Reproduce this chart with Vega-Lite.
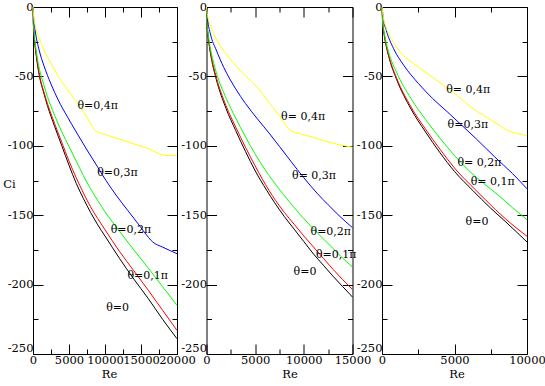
{
  "$schema": "https://vega.github.io/schema/vega-lite/v6.json",
  "padding": {"left": 2, "top": 0, "right": 0, "bottom": 0},
  "spacing": 29.5,
  "bounds": "flush",
  "config": {
    "view": {"stroke": "black", "strokeWidth": 1},
    "axis": {
      "domain": false, "grid": false, "tickColor": "black", "tickWidth": 1,
      "labelFont": "DejaVu Serif", "labelFontSize": 11.5, "labelColor": "black",
      "titleFont": "DejaVu Serif", "titleFontSize": 11.5, "titleFontWeight": "normal", "titleColor": "black",
      "labelFlush": false, "labelOverlap": false
    }
  },
  "datasets": {
    "curves": [
      {"panel":1,"theta":"0","Re":0,"Ci":0},{"panel":1,"theta":"0","Re":50,"Ci":-12},{"panel":1,"theta":"0","Re":150,"Ci":-20},{"panel":1,"theta":"0","Re":300,"Ci":-28.5},{"panel":1,"theta":"0","Re":500,"Ci":-37},{"panel":1,"theta":"0","Re":900,"Ci":-50},{"panel":1,"theta":"0","Re":1500,"Ci":-62},{"panel":1,"theta":"0","Re":2000,"Ci":-71},{"panel":1,"theta":"0","Re":3000,"Ci":-86},{"panel":1,"theta":"0","Re":4000,"Ci":-100},{"panel":1,"theta":"0","Re":5000,"Ci":-114},{"panel":1,"theta":"0","Re":6000,"Ci":-127},{"panel":1,"theta":"0","Re":7000,"Ci":-138},{"panel":1,"theta":"0","Re":8000,"Ci":-148},{"panel":1,"theta":"0","Re":9000,"Ci":-157},{"panel":1,"theta":"0","Re":10000,"Ci":-165},{"panel":1,"theta":"0","Re":12000,"Ci":-181},{"panel":1,"theta":"0","Re":14000,"Ci":-196},{"panel":1,"theta":"0","Re":16000,"Ci":-210},{"panel":1,"theta":"0","Re":18000,"Ci":-225},{"panel":1,"theta":"0","Re":20000,"Ci":-239},
      {"panel":1,"theta":"0.1","Re":0,"Ci":0},{"panel":1,"theta":"0.1","Re":50,"Ci":-11.5},{"panel":1,"theta":"0.1","Re":150,"Ci":-19.5},{"panel":1,"theta":"0.1","Re":300,"Ci":-28},{"panel":1,"theta":"0.1","Re":500,"Ci":-36},{"panel":1,"theta":"0.1","Re":900,"Ci":-49},{"panel":1,"theta":"0.1","Re":1500,"Ci":-61},{"panel":1,"theta":"0.1","Re":2000,"Ci":-69.5},{"panel":1,"theta":"0.1","Re":3000,"Ci":-84},{"panel":1,"theta":"0.1","Re":4000,"Ci":-97.5},{"panel":1,"theta":"0.1","Re":5000,"Ci":-111},{"panel":1,"theta":"0.1","Re":6000,"Ci":-123},{"panel":1,"theta":"0.1","Re":7000,"Ci":-134},{"panel":1,"theta":"0.1","Re":8000,"Ci":-144},{"panel":1,"theta":"0.1","Re":9000,"Ci":-152.5},{"panel":1,"theta":"0.1","Re":10000,"Ci":-160.5},{"panel":1,"theta":"0.1","Re":12000,"Ci":-176},{"panel":1,"theta":"0.1","Re":14000,"Ci":-190},{"panel":1,"theta":"0.1","Re":16000,"Ci":-204},{"panel":1,"theta":"0.1","Re":18000,"Ci":-218.5},{"panel":1,"theta":"0.1","Re":20000,"Ci":-233},
      {"panel":1,"theta":"0.2","Re":0,"Ci":0},{"panel":1,"theta":"0.2","Re":50,"Ci":-10.8},{"panel":1,"theta":"0.2","Re":150,"Ci":-18},{"panel":1,"theta":"0.2","Re":300,"Ci":-25.7},{"panel":1,"theta":"0.2","Re":500,"Ci":-33.3},{"panel":1,"theta":"0.2","Re":900,"Ci":-45},{"panel":1,"theta":"0.2","Re":1500,"Ci":-56},{"panel":1,"theta":"0.2","Re":2000,"Ci":-64.5},{"panel":1,"theta":"0.2","Re":3000,"Ci":-78},{"panel":1,"theta":"0.2","Re":4000,"Ci":-90},{"panel":1,"theta":"0.2","Re":5000,"Ci":-100.5},{"panel":1,"theta":"0.2","Re":6000,"Ci":-111},{"panel":1,"theta":"0.2","Re":7000,"Ci":-121.5},{"panel":1,"theta":"0.2","Re":8000,"Ci":-131},{"panel":1,"theta":"0.2","Re":9000,"Ci":-139.5},{"panel":1,"theta":"0.2","Re":10000,"Ci":-147.5},{"panel":1,"theta":"0.2","Re":12000,"Ci":-161.5},{"panel":1,"theta":"0.2","Re":14000,"Ci":-175},{"panel":1,"theta":"0.2","Re":16000,"Ci":-188},{"panel":1,"theta":"0.2","Re":18000,"Ci":-201.5},{"panel":1,"theta":"0.2","Re":20000,"Ci":-215},
      {"panel":1,"theta":"0.3","Re":0,"Ci":0},{"panel":1,"theta":"0.3","Re":100,"Ci":-9},{"panel":1,"theta":"0.3","Re":300,"Ci":-17},{"panel":1,"theta":"0.3","Re":880,"Ci":-31.6},{"panel":1,"theta":"0.3","Re":1500,"Ci":-42},{"panel":1,"theta":"0.3","Re":2500,"Ci":-55.5},{"panel":1,"theta":"0.3","Re":3500,"Ci":-67},{"panel":1,"theta":"0.3","Re":4820,"Ci":-79.5},{"panel":1,"theta":"0.3","Re":6000,"Ci":-90},{"panel":1,"theta":"0.3","Re":7500,"Ci":-103},{"panel":1,"theta":"0.3","Re":9000,"Ci":-115.5},{"panel":1,"theta":"0.3","Re":10140,"Ci":-125},{"panel":1,"theta":"0.3","Re":11530,"Ci":-135.5},{"panel":1,"theta":"0.3","Re":13150,"Ci":-146.5},{"panel":1,"theta":"0.3","Re":14500,"Ci":-155.5},{"panel":1,"theta":"0.3","Re":15500,"Ci":-162.5},{"panel":1,"theta":"0.3","Re":16630,"Ci":-169.3},{"panel":1,"theta":"0.3","Re":18000,"Ci":-173},{"panel":1,"theta":"0.3","Re":20000,"Ci":-177.7},
      {"panel":1,"theta":"0.4","Re":0,"Ci":0},{"panel":1,"theta":"0.4","Re":100,"Ci":-7},{"panel":1,"theta":"0.4","Re":300,"Ci":-13},{"panel":1,"theta":"0.4","Re":650,"Ci":-19.6},{"panel":1,"theta":"0.4","Re":1000,"Ci":-24.5},{"panel":1,"theta":"0.4","Re":1570,"Ci":-31.6},{"panel":1,"theta":"0.4","Re":2500,"Ci":-40.5},{"panel":1,"theta":"0.4","Re":3500,"Ci":-50},{"panel":1,"theta":"0.4","Re":4500,"Ci":-57.5},{"panel":1,"theta":"0.4","Re":5500,"Ci":-64.5},{"panel":1,"theta":"0.4","Re":6500,"Ci":-71.5},{"panel":1,"theta":"0.4","Re":7500,"Ci":-79.5},{"panel":1,"theta":"0.4","Re":8660,"Ci":-89},{"panel":1,"theta":"0.4","Re":10000,"Ci":-91.8},{"panel":1,"theta":"0.4","Re":12000,"Ci":-95.2},{"panel":1,"theta":"0.4","Re":14000,"Ci":-98.6},{"panel":1,"theta":"0.4","Re":16000,"Ci":-102},{"panel":1,"theta":"0.4","Re":18470,"Ci":-107},{"panel":1,"theta":"0.4","Re":20000,"Ci":-107},

      {"panel":2,"theta":"0","Re":0,"Ci":0},{"panel":2,"theta":"0","Re":50,"Ci":-12},{"panel":2,"theta":"0","Re":150,"Ci":-20},{"panel":2,"theta":"0","Re":300,"Ci":-28.5},{"panel":2,"theta":"0","Re":500,"Ci":-37},{"panel":2,"theta":"0","Re":1000,"Ci":-52},{"panel":2,"theta":"0","Re":2000,"Ci":-73},{"panel":2,"theta":"0","Re":3000,"Ci":-89},{"panel":2,"theta":"0","Re":4000,"Ci":-104},{"panel":2,"theta":"0","Re":5000,"Ci":-118},{"panel":2,"theta":"0","Re":6180,"Ci":-132},{"panel":2,"theta":"0","Re":7000,"Ci":-141},{"panel":2,"theta":"0","Re":8000,"Ci":-151},{"panel":2,"theta":"0","Re":9000,"Ci":-160},{"panel":2,"theta":"0","Re":10000,"Ci":-169},{"panel":2,"theta":"0","Re":11000,"Ci":-178},{"panel":2,"theta":"0","Re":12000,"Ci":-186},{"panel":2,"theta":"0","Re":13000,"Ci":-194},{"panel":2,"theta":"0","Re":14000,"Ci":-201.5},{"panel":2,"theta":"0","Re":15000,"Ci":-209},
      {"panel":2,"theta":"0.1","Re":0,"Ci":0},{"panel":2,"theta":"0.1","Re":50,"Ci":-11.7},{"panel":2,"theta":"0.1","Re":150,"Ci":-19.5},{"panel":2,"theta":"0.1","Re":300,"Ci":-27.8},{"panel":2,"theta":"0.1","Re":500,"Ci":-36},{"panel":2,"theta":"0.1","Re":1000,"Ci":-50.5},{"panel":2,"theta":"0.1","Re":2000,"Ci":-71},{"panel":2,"theta":"0.1","Re":3000,"Ci":-86.5},{"panel":2,"theta":"0.1","Re":4000,"Ci":-101},{"panel":2,"theta":"0.1","Re":5000,"Ci":-114.5},{"panel":2,"theta":"0.1","Re":6410,"Ci":-132},{"panel":2,"theta":"0.1","Re":7100,"Ci":-139.4},{"panel":2,"theta":"0.1","Re":8000,"Ci":-148},{"panel":2,"theta":"0.1","Re":9000,"Ci":-156.5},{"panel":2,"theta":"0.1","Re":10000,"Ci":-165},{"panel":2,"theta":"0.1","Re":11000,"Ci":-173},{"panel":2,"theta":"0.1","Re":12000,"Ci":-181},{"panel":2,"theta":"0.1","Re":13000,"Ci":-189},{"panel":2,"theta":"0.1","Re":14000,"Ci":-196.5},{"panel":2,"theta":"0.1","Re":15000,"Ci":-203.5},
      {"panel":2,"theta":"0.2","Re":0,"Ci":0},{"panel":2,"theta":"0.2","Re":50,"Ci":-10.8},{"panel":2,"theta":"0.2","Re":150,"Ci":-18},{"panel":2,"theta":"0.2","Re":300,"Ci":-25.7},{"panel":2,"theta":"0.2","Re":500,"Ci":-33.3},{"panel":2,"theta":"0.2","Re":1000,"Ci":-47},{"panel":2,"theta":"0.2","Re":2000,"Ci":-65.5},{"panel":2,"theta":"0.2","Re":3000,"Ci":-80},{"panel":2,"theta":"0.2","Re":4000,"Ci":-93.5},{"panel":2,"theta":"0.2","Re":5000,"Ci":-106},{"panel":2,"theta":"0.2","Re":6000,"Ci":-117},{"panel":2,"theta":"0.2","Re":7440,"Ci":-131},{"panel":2,"theta":"0.2","Re":8300,"Ci":-138.5},{"panel":2,"theta":"0.2","Re":9000,"Ci":-144.5},{"panel":2,"theta":"0.2","Re":10000,"Ci":-152.5},{"panel":2,"theta":"0.2","Re":11000,"Ci":-160},{"panel":2,"theta":"0.2","Re":12080,"Ci":-167.5},{"panel":2,"theta":"0.2","Re":13000,"Ci":-174},{"panel":2,"theta":"0.2","Re":14000,"Ci":-181},{"panel":2,"theta":"0.2","Re":15000,"Ci":-187.3},
      {"panel":2,"theta":"0.3","Re":0,"Ci":0},{"panel":2,"theta":"0.3","Re":100,"Ci":-8},{"panel":2,"theta":"0.3","Re":410,"Ci":-19.6},{"panel":2,"theta":"0.3","Re":1000,"Ci":-31},{"panel":2,"theta":"0.3","Re":1780,"Ci":-43.6},{"panel":2,"theta":"0.3","Re":3000,"Ci":-59},{"panel":2,"theta":"0.3","Re":4000,"Ci":-69.5},{"panel":2,"theta":"0.3","Re":5220,"Ci":-80.5},{"panel":2,"theta":"0.3","Re":6500,"Ci":-91.5},{"panel":2,"theta":"0.3","Re":7500,"Ci":-100.5},{"panel":2,"theta":"0.3","Re":8650,"Ci":-111},{"panel":2,"theta":"0.3","Re":10000,"Ci":-123},{"panel":2,"theta":"0.3","Re":11400,"Ci":-134.5},{"panel":2,"theta":"0.3","Re":12500,"Ci":-142.5},{"panel":2,"theta":"0.3","Re":13500,"Ci":-149.5},{"panel":2,"theta":"0.3","Re":15000,"Ci":-159},
      {"panel":2,"theta":"0.4","Re":0,"Ci":0},{"panel":2,"theta":"0.4","Re":100,"Ci":-6},{"panel":2,"theta":"0.4","Re":300,"Ci":-11},{"panel":2,"theta":"0.4","Re":600,"Ci":-17},{"panel":2,"theta":"0.4","Re":1000,"Ci":-23},{"panel":2,"theta":"0.4","Re":1780,"Ci":-31.6},{"panel":2,"theta":"0.4","Re":2500,"Ci":-38},{"panel":2,"theta":"0.4","Re":3500,"Ci":-46},{"panel":2,"theta":"0.4","Re":4500,"Ci":-53},{"panel":2,"theta":"0.4","Re":5220,"Ci":-58},{"panel":2,"theta":"0.4","Re":6500,"Ci":-69.5},{"panel":2,"theta":"0.4","Re":7500,"Ci":-78.5},{"panel":2,"theta":"0.4","Re":8650,"Ci":-89},{"panel":2,"theta":"0.4","Re":10000,"Ci":-92},{"panel":2,"theta":"0.4","Re":12080,"Ci":-96.3},{"panel":2,"theta":"0.4","Re":13500,"Ci":-99},{"panel":2,"theta":"0.4","Re":15000,"Ci":-101},

      {"panel":3,"theta":"0","Re":0,"Ci":0},{"panel":3,"theta":"0","Re":50,"Ci":-12},{"panel":3,"theta":"0","Re":150,"Ci":-20},{"panel":3,"theta":"0","Re":300,"Ci":-28.5},{"panel":3,"theta":"0","Re":500,"Ci":-37},{"panel":3,"theta":"0","Re":1000,"Ci":-52},{"panel":3,"theta":"0","Re":2000,"Ci":-73.5},{"panel":3,"theta":"0","Re":3000,"Ci":-90},{"panel":3,"theta":"0","Re":4000,"Ci":-105},{"panel":3,"theta":"0","Re":5000,"Ci":-118.5},{"panel":3,"theta":"0","Re":6260,"Ci":-132.2},{"panel":3,"theta":"0","Re":7500,"Ci":-145},{"panel":3,"theta":"0","Re":8500,"Ci":-154.5},{"panel":3,"theta":"0","Re":10000,"Ci":-169.3},
      {"panel":3,"theta":"0.1","Re":0,"Ci":0},{"panel":3,"theta":"0.1","Re":50,"Ci":-11.7},{"panel":3,"theta":"0.1","Re":150,"Ci":-19.5},{"panel":3,"theta":"0.1","Re":300,"Ci":-28},{"panel":3,"theta":"0.1","Re":500,"Ci":-36.5},{"panel":3,"theta":"0.1","Re":1000,"Ci":-51},{"panel":3,"theta":"0.1","Re":2000,"Ci":-72},{"panel":3,"theta":"0.1","Re":3000,"Ci":-88},{"panel":3,"theta":"0.1","Re":4000,"Ci":-102.5},{"panel":3,"theta":"0.1","Re":5000,"Ci":-116},{"panel":3,"theta":"0.1","Re":6490,"Ci":-132.2},{"panel":3,"theta":"0.1","Re":7180,"Ci":-139.4},{"panel":3,"theta":"0.1","Re":8500,"Ci":-152.5},{"panel":3,"theta":"0.1","Re":10000,"Ci":-165.2},
      {"panel":3,"theta":"0.2","Re":0,"Ci":0},{"panel":3,"theta":"0.2","Re":50,"Ci":-11},{"panel":3,"theta":"0.2","Re":150,"Ci":-18},{"panel":3,"theta":"0.2","Re":300,"Ci":-26},{"panel":3,"theta":"0.2","Re":500,"Ci":-34},{"panel":3,"theta":"0.2","Re":1000,"Ci":-47},{"panel":3,"theta":"0.2","Re":2000,"Ci":-66},{"panel":3,"theta":"0.2","Re":3000,"Ci":-81},{"panel":3,"theta":"0.2","Re":4000,"Ci":-94.5},{"panel":3,"theta":"0.2","Re":5000,"Ci":-107},{"panel":3,"theta":"0.2","Re":6000,"Ci":-118},{"panel":3,"theta":"0.2","Re":7000,"Ci":-127},{"panel":3,"theta":"0.2","Re":8000,"Ci":-135.5},{"panel":3,"theta":"0.2","Re":9000,"Ci":-144.5},{"panel":3,"theta":"0.2","Re":10000,"Ci":-153.3},
      {"panel":3,"theta":"0.3","Re":0,"Ci":0},{"panel":3,"theta":"0.3","Re":100,"Ci":-9},{"panel":3,"theta":"0.3","Re":300,"Ci":-17},{"panel":3,"theta":"0.3","Re":800,"Ci":-30},{"panel":3,"theta":"0.3","Re":1500,"Ci":-42},{"panel":3,"theta":"0.3","Re":2500,"Ci":-55},{"panel":3,"theta":"0.3","Re":3500,"Ci":-66},{"panel":3,"theta":"0.3","Re":4500,"Ci":-75.5},{"panel":3,"theta":"0.3","Re":5460,"Ci":-84.8},{"panel":3,"theta":"0.3","Re":6500,"Ci":-95},{"panel":3,"theta":"0.3","Re":7750,"Ci":-107.8},{"panel":3,"theta":"0.3","Re":9000,"Ci":-120},{"panel":3,"theta":"0.3","Re":10000,"Ci":-131},
      {"panel":3,"theta":"0.4","Re":0,"Ci":0},{"panel":3,"theta":"0.4","Re":100,"Ci":-8},{"panel":3,"theta":"0.4","Re":300,"Ci":-15},{"panel":3,"theta":"0.4","Re":870,"Ci":-26.8},{"panel":3,"theta":"0.4","Re":1500,"Ci":-35},{"panel":3,"theta":"0.4","Re":2200,"Ci":-41},{"panel":3,"theta":"0.4","Re":3170,"Ci":-48.3},{"panel":3,"theta":"0.4","Re":4200,"Ci":-56},{"panel":3,"theta":"0.4","Re":5200,"Ci":-64},{"panel":3,"theta":"0.4","Re":6150,"Ci":-72.3},{"panel":3,"theta":"0.4","Re":7000,"Ci":-78},{"panel":3,"theta":"0.4","Re":8000,"Ci":-84.5},{"panel":3,"theta":"0.4","Re":8670,"Ci":-89},{"panel":3,"theta":"0.4","Re":9300,"Ci":-91},{"panel":3,"theta":"0.4","Re":10000,"Ci":-92.7}
    ],
    "labels": [
      {"panel":1,"text":"θ=0,4π","Re":8990,"Ci":-71.1},
      {"panel":1,"text":"θ=0,3π","Re":11740,"Ci":-119.7},
      {"panel":1,"text":"θ=0,2π","Re":13610,"Ci":-160.4},
      {"panel":1,"text":"θ=0,1π","Re":15930,"Ci":-194},
      {"panel":1,"text":"θ=0","Re":11760,"Ci":-216.5},
      {"panel":2,"text":"θ= 0,4π","Re":9930,"Ci":-79},
      {"panel":2,"text":"θ= 0,3π","Re":11050,"Ci":-122.1},
      {"panel":2,"text":"θ=0,2π","Re":12770,"Ci":-162.1},
      {"panel":2,"text":"θ=0,1π","Re":13330,"Ci":-178.9},
      {"panel":2,"text":"θ=0","Re":10120,"Ci":-190.9},
      {"panel":3,"text":"θ= 0,4π","Re":5950,"Ci":-59.9},
      {"panel":3,"text":"θ=0,3π","Re":5920,"Ci":-84.8},
      {"panel":3,"text":"θ= 0,2π","Re":6720,"Ci":-112.6},
      {"panel":3,"text":"θ= 0,1π","Re":7640,"Ci":-126.2},
      {"panel":3,"text":"θ=0","Re":6550,"Ci":-155}
    ]
  },
  "hconcat": [
    {
      "width": 144, "height": 347,
      "layer": [
        {
          "data": {"name": "curves"},
          "transform": [{"filter": "datum.panel == 1"}],
          "mark": {"type": "line", "strokeWidth": 1, "interpolate": "monotone"},
          "encoding": {
            "x": {"field": "Re", "type": "quantitative", "scale": {"domain": [0, 20000], "nice": false, "zero": false},
              "axis": {"orient": "bottom", "values": [0,2500,5000,7500,10000,12500,15000,17500,20000],
                "tickSize": {"condition": {"test": "datum.value % 5000 === 0", "value": -10}, "value": -5},
                "labelPadding": 10, "labelExpr": "datum.value % 5000 === 0 ? '' + datum.value : ''",
                "title": "Re", "titleX": 76, "titleY": 23, "titleBaseline": "alphabetic", "titleAlign": "center"}},
            "y": {"field": "Ci", "type": "quantitative", "scale": {"domain": [-250, 0], "nice": false, "zero": false},
              "axis": {"orient": "left", "values": [0,-25,-50,-75,-100,-125,-150,-175,-200,-225,-250],
                "tickSize": {"condition": {"test": "datum.value % 50 === 0", "value": -10}, "value": -5},
                "labelPadding": 10, "labelExpr": "datum.value % 50 === 0 ? '' + datum.value : ''",
                "labelOffset": {"condition": {"test": "datum.value === -250", "value": -6}, "value": 0},
                "title": "Ci", "titleAngle": 0, "titleX": -24, "titleY": 177, "titleAlign": "center", "titleBaseline": "middle"}},
            "color": {"field": "theta", "type": "nominal", "legend": null,
              "scale": {"domain": ["0","0.1","0.2","0.3","0.4"], "range": ["#000000","#ff0000","#00ff00","#0000ff","#ffff00"]}}
          }
        },
        {
          "data": {"name": "labels"},
          "transform": [{"filter": "datum.panel == 1"}],
          "mark": {"type": "text", "font": "DejaVu Serif", "fontSize": 11, "align": "center", "baseline": "middle", "color": "black"},
          "encoding": {
            "x": {"field": "Re", "type": "quantitative", "scale": {"domain": [0, 20000], "nice": false, "zero": false},
              "axis": {"orient": "top", "values": [0,2500,5000,7500,10000,12500,15000,17500,20000], "labels": false, "title": null,
                "tickSize": {"condition": {"test": "datum.value % 5000 === 0", "value": -10}, "value": -5}}},
            "y": {"field": "Ci", "type": "quantitative", "scale": {"domain": [-250, 0], "nice": false, "zero": false},
              "axis": {"orient": "right", "values": [0,-25,-50,-75,-100,-125,-150,-175,-200,-225,-250], "labels": false, "title": null,
                "tickSize": {"condition": {"test": "datum.value % 50 === 0", "value": -10}, "value": -5}}},
            "text": {"field": "text"}
          }
        }
      ]
    },
    {
      "width": 146, "height": 347,
      "layer": [
        {
          "data": {"name": "curves"},
          "transform": [{"filter": "datum.panel == 2"}],
          "mark": {"type": "line", "strokeWidth": 1, "interpolate": "monotone"},
          "encoding": {
            "x": {"field": "Re", "type": "quantitative", "scale": {"domain": [0, 15000], "nice": false, "zero": false},
              "axis": {"orient": "bottom", "values": [0,2500,5000,7500,10000,12500,15000],
                "tickSize": {"condition": {"test": "datum.value % 5000 === 0", "value": -10}, "value": -5},
                "labelPadding": 10, "labelExpr": "datum.value % 5000 === 0 ? '' + datum.value : ''",
                "title": "Re", "titleX": 83, "titleY": 23, "titleBaseline": "alphabetic", "titleAlign": "center"}},
            "y": {"field": "Ci", "type": "quantitative", "scale": {"domain": [-250, 0], "nice": false, "zero": false},
              "axis": {"orient": "left", "values": [0,-25,-50,-75,-100,-125,-150,-175,-200,-225,-250],
                "tickSize": {"condition": {"test": "datum.value % 50 === 0", "value": -10}, "value": -5},
                "labelPadding": 10, "labelExpr": "datum.value % 50 === 0 ? '' + datum.value : ''",
                "labelOffset": {"condition": {"test": "datum.value === -250", "value": -6}, "value": 0},
                "title": null}},
            "color": {"field": "theta", "type": "nominal", "legend": null,
              "scale": {"domain": ["0","0.1","0.2","0.3","0.4"], "range": ["#000000","#ff0000","#00ff00","#0000ff","#ffff00"]}}
          }
        },
        {
          "data": {"name": "labels"},
          "transform": [{"filter": "datum.panel == 2"}],
          "mark": {"type": "text", "font": "DejaVu Serif", "fontSize": 11, "align": "center", "baseline": "middle", "color": "black"},
          "encoding": {
            "x": {"field": "Re", "type": "quantitative", "scale": {"domain": [0, 15000], "nice": false, "zero": false},
              "axis": {"orient": "top", "values": [0,2500,5000,7500,10000,12500,15000], "labels": false, "title": null,
                "tickSize": {"condition": {"test": "datum.value % 5000 === 0", "value": -10}, "value": -5}}},
            "y": {"field": "Ci", "type": "quantitative", "scale": {"domain": [-250, 0], "nice": false, "zero": false},
              "axis": {"orient": "right", "values": [0,-25,-50,-75,-100,-125,-150,-175,-200,-225,-250], "labels": false, "title": null,
                "tickSize": {"condition": {"test": "datum.value % 50 === 0", "value": -10}, "value": -5}}},
            "text": {"field": "text"}
          }
        }
      ]
    },
    {
      "width": 145, "height": 347,
      "layer": [
        {
          "data": {"name": "curves"},
          "transform": [{"filter": "datum.panel == 3"}],
          "mark": {"type": "line", "strokeWidth": 1, "interpolate": "monotone"},
          "encoding": {
            "x": {"field": "Re", "type": "quantitative", "scale": {"domain": [0, 10000], "nice": false, "zero": false},
              "axis": {"orient": "bottom", "values": [0,2500,5000,7500,10000],
                "tickSize": {"condition": {"test": "datum.value % 5000 === 0", "value": -10}, "value": -5},
                "labelPadding": 10, "labelExpr": "datum.value % 5000 === 0 ? '' + datum.value : ''",
                "title": "Re", "titleX": 74.5, "titleY": 23, "titleBaseline": "alphabetic", "titleAlign": "center"}},
            "y": {"field": "Ci", "type": "quantitative", "scale": {"domain": [-250, 0], "nice": false, "zero": false},
              "axis": {"orient": "left", "values": [0,-25,-50,-75,-100,-125,-150,-175,-200,-225,-250],
                "tickSize": {"condition": {"test": "datum.value % 50 === 0", "value": -10}, "value": -5},
                "labelPadding": 10, "labelExpr": "datum.value % 50 === 0 ? '' + datum.value : ''",
                "labelOffset": {"condition": {"test": "datum.value === -250", "value": -6}, "value": 0},
                "title": null}},
            "color": {"field": "theta", "type": "nominal", "legend": null,
              "scale": {"domain": ["0","0.1","0.2","0.3","0.4"], "range": ["#000000","#ff0000","#00ff00","#0000ff","#ffff00"]}}
          }
        },
        {
          "data": {"name": "labels"},
          "transform": [{"filter": "datum.panel == 3"}],
          "mark": {"type": "text", "font": "DejaVu Serif", "fontSize": 11, "align": "center", "baseline": "middle", "color": "black"},
          "encoding": {
            "x": {"field": "Re", "type": "quantitative", "scale": {"domain": [0, 10000], "nice": false, "zero": false},
              "axis": {"orient": "top", "values": [0,2500,5000,7500,10000], "labels": false, "title": null,
                "tickSize": {"condition": {"test": "datum.value % 5000 === 0", "value": -10}, "value": -5}}},
            "y": {"field": "Ci", "type": "quantitative", "scale": {"domain": [-250, 0], "nice": false, "zero": false},
              "axis": {"orient": "right", "values": [0,-25,-50,-75,-100,-125,-150,-175,-200,-225,-250], "labels": false, "title": null,
                "tickSize": {"condition": {"test": "datum.value % 50 === 0", "value": -10}, "value": -5}}},
            "text": {"field": "text"}
          }
        }
      ]
    }
  ]
}
